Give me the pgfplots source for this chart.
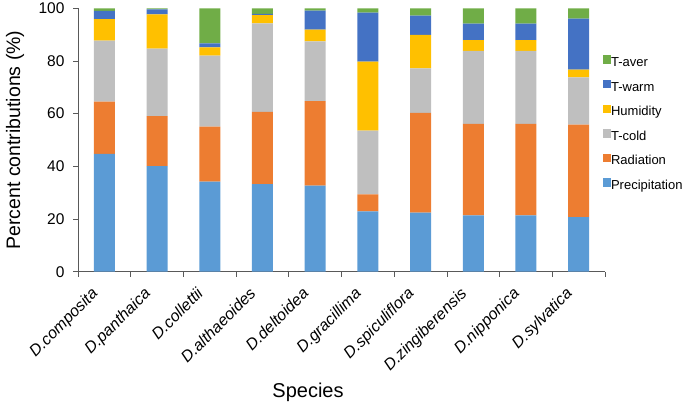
\documentclass[border=0pt]{standalone}
\usepackage{pgfplots}
\pgfplotsset{compat=1.18}
\usepackage{fontspec}
\setmainfont{Liberation Sans}
\definecolor{cprec}{HTML}{5B9BD5}
\definecolor{crad}{HTML}{ED7D31}
\definecolor{ccold}{HTML}{BFBFBF}
\definecolor{chum}{HTML}{FFC000}
\definecolor{cwarm}{HTML}{4472C4}
\definecolor{caver}{HTML}{70AD47}
\definecolor{axgray}{HTML}{595959}
\begin{document}
\begin{tikzpicture}
\useasboundingbox (0,0) rectangle (685pt,404pt);
\begin{axis}[
  at={(78pt,132.3pt)}, anchor=south west,
  scale only axis, width=527pt, height=263.4pt,
  ybar stacked, bar width=21pt,
  xmin=-0.5, xmax=9.5, ymin=0, ymax=100,
  axis lines*=left,
  axis line style={axgray, line width=0.75pt},
  xtick={0,...,9},
  xticklabels={D.composita,D.panthaica,D.collettii,D.althaeoides,D.deltoidea,D.gracillima,D.spiculiflora,D.zingiberensis,D.nipponica,D.sylvatica},
  major x tick style={draw=none},
  minor xtick={-0.5,0.5,...,9.5},
  minor x tick style={axgray, line width=0.75pt},
  minor tick length=5pt,
  ytick={0,20,...,100},
  major y tick style={axgray, line width=0.75pt},
  major tick length=5pt,
  tick align=outside,
  x tick label style={xshift=-14pt, yshift=-8pt, rotate=45, anchor=north east, font=\fontsize{16}{18}\selectfont\itshape, inner sep=1pt},
  y tick label style={font=\fontsize{15.5}{17}\selectfont, xshift=-5pt},
  /pgf/number format/assume math mode=true,
  ylabel={Percent contributions (\%)},
  ylabel style={font=\fontsize{19.5}{21}\selectfont, at={(axis description cs:-0.1195,0.5)}, anchor=center},
  xlabel={Species},
  xlabel style={font=\fontsize{20}{22}\selectfont, at={(axis description cs:0.4365,-0.4567)}, anchor=center},
  reverse legend,
  legend style={draw=none, fill=none, inner sep=0pt, at={(0.995,0.822)}, anchor=north west,
    font=\fontsize{13}{15}\selectfont, row sep=10.3pt, legend cell align=left,
    nodes={inner sep=0pt, text height=9.5pt, text depth=3.1pt},
    /tikz/every even column/.append style={column sep=0pt}},
  legend image code/.code={\fill[#1] (0pt,-0.5pt) rectangle (8.5pt,8pt);},
]
\addplot[fill=cprec, draw=none] coordinates {(0,44.7) (1,40.1) (2,34.2) (3,33.2) (4,32.7) (5,22.9) (6,22.4) (7,21.4) (8,21.4) (9,20.7)};
\addplot[fill=crad, draw=none] coordinates {(0,19.9) (1,19.0) (2,20.9) (3,27.5) (4,32.1) (5,6.5) (6,37.9) (7,34.7) (8,34.7) (9,35.1)};
\addplot[fill=ccold, draw=none] coordinates {(0,23.1) (1,25.6) (2,26.9) (3,33.6) (4,22.6) (5,24.2) (6,16.9) (7,27.7) (8,27.7) (9,18.0)};
\addplot[fill=chum, draw=none] coordinates {(0,8.2) (1,13.0) (2,3.2) (3,3.1) (4,4.5) (5,26.2) (6,12.7) (7,4.1) (8,4.1) (9,2.9)};
\addplot[fill=cwarm, draw=none] coordinates {(0,3.1) (1,1.9) (2,1.5) (3,0.5) (4,7.2) (5,18.6) (6,7.3) (7,6.3) (8,6.3) (9,19.4)};
\addplot[fill=caver, draw=none] coordinates {(0,1.0) (1,0.4) (2,13.3) (3,2.1) (4,0.9) (5,1.6) (6,2.8) (7,5.8) (8,5.8) (9,3.9)};
\legend{Precipitation,Radiation,T-cold,Humidity,T-warm,T-aver}
\end{axis}
\end{tikzpicture}
\end{document}
